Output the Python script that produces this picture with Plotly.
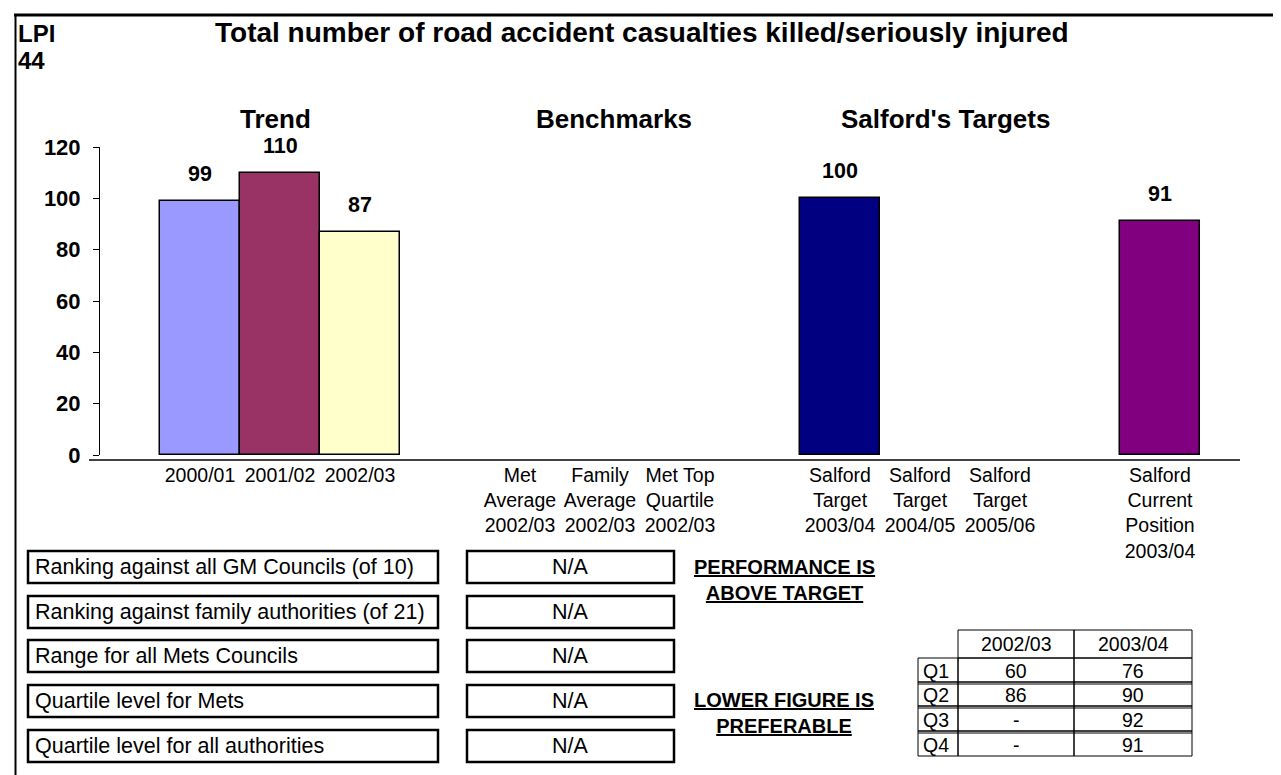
import plotly.graph_objects as go

# ---------------- data ----------------
categories = [
    "2000/01", "2001/02", "2002/03", "",
    "Met<br>Average<br>2002/03", "Family<br>Average<br>2002/03", "Met Top<br>Quartile<br>2002/03", " ",
    "Salford<br>Target<br>2003/04", "Salford<br>Target<br>2004/05", "Salford<br>Target<br>2005/06", "  ",
    "Salford<br>Current<br>Position<br>2003/04",
]
values = [99, 110, 87, None, None, None, None, None, 100, None, None, None, 91]
bar_colors = ["#9999FF", "#993366", "#FFFFCC", "white", "white", "white", "white", "white",
              "#000080", "white", "white", "white", "#800080"]
y_ticks = [0, 20, 40, 60, 80, 100, 120]

section_titles = ["Trend", "Benchmarks", "Salford's Targets"]

box_labels = [
    "Ranking against all GM Councils (of 10)",
    "Ranking against family authorities (of 21)",
    "Range for all Mets Councils",
    "Quartile level for Mets",
    "Quartile level for all authorities",
]
box_values = ["N/A", "N/A", "N/A", "N/A", "N/A"]

table_cols = ["2002/03", "2003/04"]
table_rows = ["Q1", "Q2", "Q3", "Q4"]
q_2002_03 = ["60", "86", "-", "-"]
q_2003_04 = ["76", "90", "92", "91"]

# ---------------- geometry helpers (pixels -> paper) ----------------
FW, FH = 1281, 775
L, R, T, B = 92, 1232, 139, 447
W, H = R - L, B - T
def px(x):
    return (x - L) / W
def py(y):
    return (B - y) / H

FONT = "Liberation Sans, Arial, Helvetica, sans-serif"

fig = go.Figure()
fig.add_trace(go.Bar(
    x=list(range(len(categories))),
    y=values,
    width=1.0,
    marker=dict(color=bar_colors, line=dict(color="black", width=1.5)),
    hoverinfo="skip",
    showlegend=False,
))

# value labels above bars
for i, v in enumerate(values):
    if v is not None:
        fig.add_annotation(x=i, y=v, xref="x", yref="y", text=f"<b>{v}</b>",
                           showarrow=False, yanchor="bottom", yshift=13,
                           font=dict(size=21.5, color="black", family=FONT))

shapes = []
annotations = []

# frame lines
shapes.append(dict(type="line", xref="paper", yref="paper", x0=px(6), x1=px(FW), y0=py(7), y1=py(7),
                   line=dict(color="black", width=3)))
shapes.append(dict(type="line", xref="paper", yref="paper", x0=px(7.5), x1=px(7.5), y0=py(6), y1=py(FH),
                   line=dict(color="black", width=2)))
# category axis line (sits a little below zero)
shapes.append(dict(type="line", xref="paper", yref="paper", x0=px(81), x1=px(R), y0=py(452), y1=py(452),
                   line=dict(color="black", width=1.5)))

# headers
annotations.append(dict(x=px(8), y=py(25), xref="paper", yref="paper", text="<b>LPI</b>",
                        showarrow=False, xanchor="left", yanchor="middle",
                        font=dict(size=24, family=FONT, color="black")))
annotations.append(dict(x=px(8), y=py(53), xref="paper", yref="paper", text="<b>44</b>",
                        showarrow=False, xanchor="left", yanchor="middle",
                        font=dict(size=24, family=FONT, color="black")))
annotations.append(dict(x=px(634), y=py(24), xref="paper", yref="paper",
                        text="<b>Total number of road accident casualties killed/seriously injured</b>",
                        showarrow=False, xanchor="center", yanchor="middle",
                        font=dict(size=28, family=FONT, color="black")))
for t, cx in zip(section_titles, [267, 606, 937]):
    annotations.append(dict(x=px(cx), y=py(111), xref="paper", yref="paper", text=f"<b>{t}</b>",
                            showarrow=False, xanchor="center", yanchor="middle",
                            font=dict(size=26, family=FONT, color="black")))

# left info boxes
row_centers = [559, 604, 648, 693, 738]
for lab, val, cy in zip(box_labels, box_values, row_centers):
    shapes.append(dict(type="rect", xref="paper", yref="paper", x0=px(20), x1=px(430),
                       y0=py(cy - 16), y1=py(cy + 16), line=dict(color="black", width=2.5)))
    shapes.append(dict(type="rect", xref="paper", yref="paper", x0=px(459), x1=px(666),
                       y0=py(cy - 16), y1=py(cy + 16), line=dict(color="black", width=2.5)))
    annotations.append(dict(x=px(25), y=py(cy), xref="paper", yref="paper", text=lab,
                            showarrow=False, xanchor="left", yanchor="middle",
                            font=dict(size=21.5, family=FONT, color="black")))
    annotations.append(dict(x=px(562), y=py(cy), xref="paper", yref="paper", text=val,
                            showarrow=False, xanchor="center", yanchor="middle",
                            font=dict(size=21.5, family=FONT, color="black")))

# notes
annotations.append(dict(x=px(776), y=py(572), xref="paper", yref="paper",
                        text="<b><u>PERFORMANCE IS</u></b><br><b><u>ABOVE TARGET</u></b>",
                        showarrow=False, xanchor="center", yanchor="middle",
                        font=dict(size=20, family=FONT, color="black")))
annotations.append(dict(x=px(776), y=py(705), xref="paper", yref="paper",
                        text="<b><u>LOWER FIGURE IS</u></b><br><b><u>PREFERABLE</u></b>",
                        showarrow=False, xanchor="center", yanchor="middle",
                        font=dict(size=20, family=FONT, color="black")))

# quartile table
xe = [910, 950, 1066, 1184]
ye_head = (622, 650)
ye_rows = [650, 674, 698, 723, 748]
for j, c in enumerate(table_cols):
    shapes.append(dict(type="rect", xref="paper", yref="paper", x0=px(xe[j + 1]), x1=px(xe[j + 2]),
                       y0=py(ye_head[0]), y1=py(ye_head[1]), line=dict(color="black", width=1)))
    annotations.append(dict(x=px((xe[j + 1] + xe[j + 2]) / 2), y=py(sum(ye_head) / 2),
                            xref="paper", yref="paper", text=c, showarrow=False,
                            xanchor="center", yanchor="middle",
                            font=dict(size=19.5, family=FONT, color="black")))
for r, (rl, a, b) in enumerate(zip(table_rows, q_2002_03, q_2003_04)):
    y0, y1 = ye_rows[r], ye_rows[r + 1]
    for k in range(3):
        shapes.append(dict(type="rect", xref="paper", yref="paper", x0=px(xe[k]), x1=px(xe[k + 1]),
                           y0=py(y0), y1=py(y1), line=dict(color="black", width=1)))
    if r > 0:
        # doubled row separator as in the original sheet
        shapes.append(dict(type="line", xref="paper", yref="paper", x0=px(xe[0]), x1=px(xe[-1]),
                           y0=py(y0 + 2), y1=py(y0 + 2), line=dict(color="black", width=1)))
    cy = (y0 + y1) / 2 + 1
    annotations.append(dict(x=px(xe[0] + 3), y=py(cy), xref="paper", yref="paper", text=rl,
                            showarrow=False, xanchor="left", yanchor="middle",
                            font=dict(size=19.5, family=FONT, color="black")))
    for k, txt in enumerate([a, b]):
        annotations.append(dict(x=px((xe[k + 1] + xe[k + 2]) / 2), y=py(cy), xref="paper", yref="paper",
                                text=txt, showarrow=False, xanchor="center", yanchor="middle",
                                font=dict(size=19.5, family=FONT, color="black")))

for a in annotations:
    fig.add_annotation(**a)

fig.update_layout(
    width=FW, height=FH, autosize=False,
    margin=dict(l=L, r=FW - R, t=T, b=FH - B, pad=0),
    paper_bgcolor="white", plot_bgcolor="white",
    bargap=0,
    shapes=shapes,
    font=dict(family=FONT, color="black"),
    xaxis=dict(
        range=[-1.25, 13.0],
        tickmode="array", tickvals=list(range(len(categories))), ticktext=categories,
        showline=False, showgrid=False, zeroline=False, ticks="",
        tickfont=dict(size=19.5, family=FONT, color="black"),
        ticklabelstandoff=6,
        tickangle=0,
    ),
    yaxis=dict(
        range=[0, 120],
        tickmode="array", tickvals=y_ticks, ticktext=[f"<b>{v}</b>" for v in y_ticks],
        showline=True, linecolor="black", linewidth=1,
        ticks="outside", ticklen=6, tickcolor="black", tickwidth=1,
        showgrid=False, zeroline=False,
        tickfont=dict(size=22, family=FONT, color="black"),
        ticklabelstandoff=8,
    ),
)

fig.write_html("out.html")
